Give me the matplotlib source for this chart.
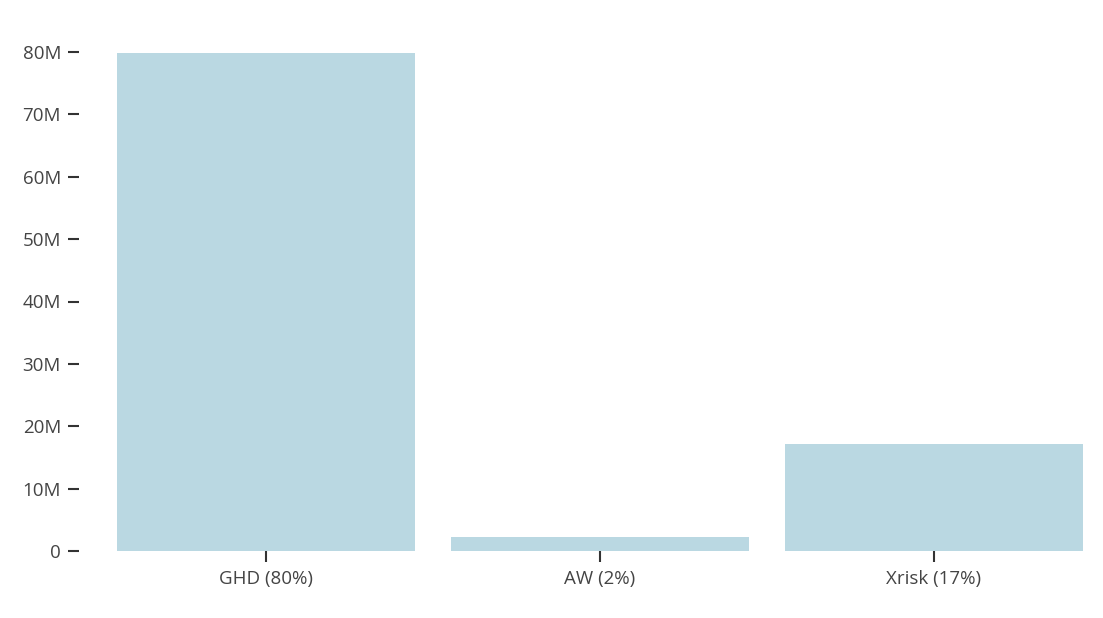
import numpy as np
import matplotlib
matplotlib.use('Agg')
import matplotlib.pyplot as plt
from matplotlib.ticker import FuncFormatter


categories = ['GHD (80%)', 'AW (2%)', 'Xrisk (17%)']
values = [79.8e6, 2.2e6, 17.1e6]
y_ticks = [0, 10e6, 20e6, 30e6, 40e6, 50e6, 60e6, 70e6, 80e6]

BAR_COLOR = '#bad8e2'
TEXT_COLOR = '#444444'
TICK_COLOR = '#333333'


def fmt_millions(v, pos):
	if v == 0:
		return '0'
	return '%dM' % round(v / 1e6)


def main():
	plt.rcParams['font.family'] = ['Open Sans', 'DejaVu Sans']

	W, H = 1103, 618
	fig = plt.figure(figsize=(W / 100, H / 100), dpi=100)
	ax = fig.add_axes([99 / W, (H - 551) / H, (1101 - 99) / W, (551 - 52) / H])

	x = np.arange(len(categories))
	ax.bar(x, values, width=298 / 334, color=BAR_COLOR)

	ax.set_xlim(-0.5, len(categories) - 0.5)
	ax.set_ylim(0, 80e6)
	ax.set_xticks(x)
	ax.set_xticklabels(categories)
	ax.set_yticks(y_ticks)
	ax.yaxis.set_major_formatter(FuncFormatter(fmt_millions))

	for s in ['top', 'right', 'bottom']:
		ax.spines[s].set_visible(False)
	# px -> pt at dpi 100 : * 0.72
	ax.spines['left'].set_position(('outward', 20 * 0.72))
	ax.spines['left'].set_visible(False)

	ax.tick_params(axis='y', length=11 * 0.72, width=1.5, color=TICK_COLOR,
				   labelcolor=TEXT_COLOR, labelsize=13.5, pad=5)
	ax.tick_params(axis='x', length=11 * 0.72, width=1.5, color=TICK_COLOR,
				   labelcolor=TEXT_COLOR, labelsize=13.5, pad=5.5)

	fig.savefig('out.png', dpi=100)


if __name__ == "__main__":
	main()
